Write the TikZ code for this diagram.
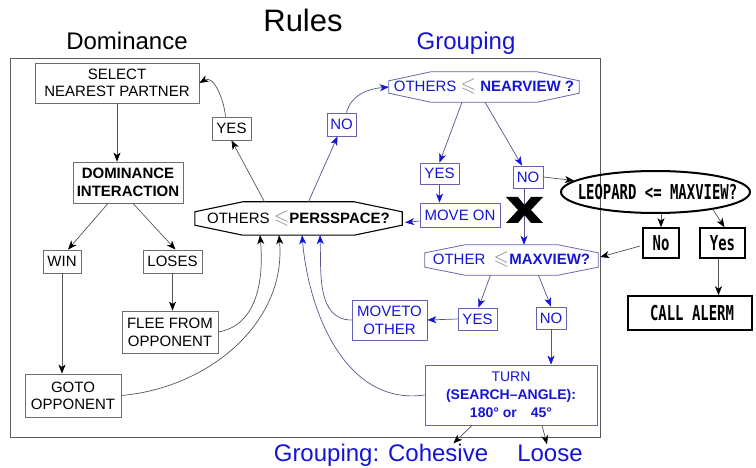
\documentclass[tikz,border=0pt]{standalone}
\usepackage{fontspec}
\usepackage{amssymb}
\setmainfont{Liberation Sans}
\newfontfamily\leofont[FakeStretch=0.68]{DejaVu Sans Mono}
\usetikzlibrary{arrows.meta,calc,shapes.geometric}
\definecolor{blueT}{RGB}{20,20,215}
\definecolor{boxblue}{RGB}{100,100,175}
\definecolor{boxgray}{RGB}{110,110,110}
\definecolor{linegray}{RGB}{85,85,85}
\definecolor{lineblue}{RGB}{85,85,140}
\definecolor{symgray}{RGB}{140,140,140}
\definecolor{framegray}{RGB}{90,90,90}
\newcommand{\myocta}[4]{\draw[#4] ($(#1.north west)+(#2pt,0pt)$) -- ($(#1.north east)+(-#2pt,0pt)$) -- ($(#1.north east)+(0pt,-#3pt)$) -- ($(#1.south east)+(0pt,#3pt)$) -- ($(#1.south east)+(-#2pt,0pt)$) -- ($(#1.south west)+(#2pt,0pt)$) -- ($(#1.south west)+(0pt,#3pt)$) -- ($(#1.north west)+(0pt,-#3pt)$) -- cycle;}
\newcommand{\lsym}{{\color{symgray}\fontsize{20}{20}\selectfont$\leqslant$}}
\tikzset{
  bx/.style={draw=boxgray, line width=0.8pt, inner sep=0pt, align=center, font=\fontsize{15}{17}\selectfont, text=black},
  bbx/.style={bx, draw=boxblue, text=blueT},
  tbx/.style={draw=black, line width=1.6pt, inner sep=0pt, font=\leofont\bfseries\fontsize{20.5}{21}\selectfont},
  octn/.style={inner sep=0pt, font=\fontsize{15}{17}\selectfont},
  arr/.style={draw=linegray, line width=0.7pt, -{Stealth[length=9pt,width=7pt,inset=2.5pt,color=black]}},
  barr/.style={draw=lineblue, line width=0.7pt, -{Stealth[length=9pt,width=7pt,inset=2.5pt,color=blueT]}},
  ttl/.style={anchor=base, inner sep=0pt, font=\fontsize{24}{24}\selectfont}
}
\begin{document}
\begin{tikzpicture}[x=1pt,y=-1pt]
\useasboundingbox (0,0) rectangle (756,468);
\draw[framegray, line width=0.9pt] (10,58) rectangle (600,437);
% titles
\node[ttl, font=\fontsize{31}{31}\selectfont] (rules) at (303,32) {Rules};
\node[ttl] (domt) at (127,50) {Dominance};
\node[ttl, text=blueT] (grpt) at (466,50) {Grouping};
\node[ttl, text=blueT] (coh) at (381,461) {Grouping: Cohesive};
\node[ttl, text=blueT] (loose) at (550,461) {Loose};
% dominance boxes
\node[bx, minimum width=164pt, minimum height=40pt] (sel) at (117,83) {SELECT\\NEAREST PARTNER};
\node[bx, minimum width=110pt, minimum height=41pt, font=\bfseries\fontsize{15}{18}\selectfont] (dom) at (128,182.5) {DOMINANCE\\INTERACTION};
\node[bx, minimum width=38pt, minimum height=23pt] (win) at (62,261.5) {WIN};
\node[bx, minimum width=59pt, minimum height=23pt] (loses) at (172.5,261.5) {LOSES};
\node[bx, minimum width=96pt, minimum height=42pt, font=\fontsize{15}{18}\selectfont] (flee) at (170,332) {FLEE FROM\\OPPONENT};
\node[bx, minimum width=96pt, minimum height=43pt] (goto) at (73,395.5) {GOTO\\OPPONENT};
\node[bx, minimum width=39pt, minimum height=23pt] (yesb) at (231.5,128.5) {YES};
\node[bbx, minimum width=29pt, minimum height=23pt] (nob) at (341.5,124.5) {NO};
% octagons
\node[octn, minimum width=207pt, minimum height=33pt] (pers) at (298.5,218.5) {OTHERS \lsym\textbf{PERSSPACE?}};
\myocta{pers}{48}{10}{black, line width=1.1pt}
\node[octn, text=blueT, minimum width=190pt, minimum height=30pt] (near) at (484,87) {OTHERS \lsym\ \textbf{NEARVIEW ?}};
\myocta{near}{42}{9}{boxblue, line width=0.8pt}
\node[octn, text=blueT, minimum width=173pt, minimum height=30pt] (maxv) at (511.5,260) {OTHER\ \ \lsym\textbf{MAXVIEW?}};
\myocta{maxv}{40}{8}{boxblue, line width=0.8pt}
% grouping boxes
\node[bbx, minimum width=39pt, minimum height=21pt] (yesg) at (439.5,173.5) {YES};
\node[bbx, minimum width=30pt, minimum height=22pt] (nog) at (528,177) {NO};
\node[bbx, minimum width=80pt, minimum height=24pt] (moveon) at (460,215) {MOVE ON};
\node[bbx, minimum width=39pt, minimum height=22pt] (yesm) at (477.5,319) {YES};
\node[bbx, minimum width=30pt, minimum height=22pt] (nom) at (551,318) {NO};
\node[bbx, minimum width=75pt, minimum height=40pt, font=\fontsize{15}{18}\selectfont] (moveto) at (389.5,320) {MOVETO\\OTHER};
\node[bbx, minimum width=172pt, minimum height=60pt, font=\fontsize{14}{18}\selectfont] (turn) at (511,395) {TURN\\\textbf{(SEARCH--ANGLE):}\\\textbf{180° or\hspace{14pt}45°}};
% leopard part
\node[ellipse, draw=black, line width=2pt, inner xsep=-18pt, inner ysep=0pt, minimum width=189pt, minimum height=42pt, font=\leofont\bfseries\fontsize{20.5}{21}\selectfont] (leo) at (655.5,192) {\hspace{4pt}LEOPARD <= MAXVIEW?};
\node[tbx, minimum width=36pt, minimum height=30pt] (no2) at (661,243) {No};
\node[tbx, minimum width=45pt, minimum height=30pt] (yes2) at (722.5,243) {Yes};
\node[tbx, minimum width=124pt, minimum height=34pt] (alarm) at (690,313) {\hspace{4pt}CALL ALERM};
% helper coordinates
\coordinate (nogs) at ($(nog.south)+(-4pt,0pt)$);
\coordinate (yes2s) at ($(yes2.south)+(-4pt,0pt)$);
% connectors: dominance
\draw[arr] (sel.south) -- (sel.south |- dom.north);
\draw[arr] ($(dom.south)+(-20pt,0pt)$) -- ($(win.north)+(6pt,0pt)$);
\draw[arr] ($(dom.south)+(5pt,0pt)$) -- ($(loses.north)+(3pt,0pt)$);
\draw[arr] (win.south) -- (win.south |- goto.north);
\draw[arr] (loses.south) -- (loses.south |- flee.north);
\draw[arr] (flee.east) to[out=10,in=-85] ($(pers.south)+(-38.5pt,0pt)$);
\draw[arr] (goto.east) to[out=5,in=-85] ($(pers.south)+(-19.5pt,0pt)$);
\draw[barr] (turn.west) to[out=188,in=-85] ($(pers.south)+(3.5pt,0pt)$);
\draw[barr] (moveto.west) to[out=180,in=-88] ($(pers.south)+(21.5pt,0pt)$);
\draw[arr] ($(pers.north)+(-34pt,0pt)$) -- (yesb.south);
\draw[arr] ($(yesb.north)+(-6pt,0pt)$) to[out=95,in=30] (sel.east);
\draw[barr] ($(pers.north)+(10pt,0pt)$) -- ($(nob.south)+(-4pt,0pt)$);
\draw[barr] ($(nob.north)+(5pt,0pt)$) to[out=75,in=185] (near.west);
% grouping
\draw[barr] ($(near.south)+(-22pt,0pt)$) -- (yesg.north);
\draw[barr] ($(near.south)+(1pt,0pt)$) -- ($(nog.north)+(-6pt,0pt)$);
\draw[barr] (yesg.south) -- (yesg.south |- moveon.north);
\draw[barr] ($(moveon.west)+(0pt,-6pt)$) -- ($(pers.east)+(3pt,-4pt)$);
\draw[arr] (nog.east) -- (leo.172);
\draw[barr] (nogs) -- (nogs |- maxv.north);
\fill[black] (506,197) -- (518,197) -- (524.5,205) -- (531,197) -- (543,197) -- (531,210) -- (543,223) -- (531,223) -- (524.5,215) -- (518,223) -- (506,223) -- (518,210) -- cycle;
\draw[arr] (leo.south -| no2.north) -- (no2.north);
\draw[arr] (leo.-17) -- ($(yes2.north)+(2pt,0pt)$);
\draw[arr] ($(no2.west)+(-2pt,-3pt)$) -- ($(maxv.east)+(2pt,3pt)$);
\draw[arr] (yes2s) -- (yes2s |- alarm.north);
\draw[barr] ($(maxv.south)+(-21pt,0pt)$) -- ($(yesm.north)+(1pt,0pt)$);
\draw[barr] ($(maxv.south)+(27pt,0pt)$) -- (nom.north);
\draw[barr] (yesm.west) -- (moveto.east);
\draw[barr] (nom.south) -- (nom.south |- turn.north);
\draw[arr] ($(turn.south)+(-39pt,0pt)$) -- ($(coh.north east)+(-35pt,0pt)$);
\draw[arr] ($(turn.south)+(31pt,0pt)$) -- ($(loose.north)+(-3pt,0pt)$);
\end{tikzpicture}
\end{document}
